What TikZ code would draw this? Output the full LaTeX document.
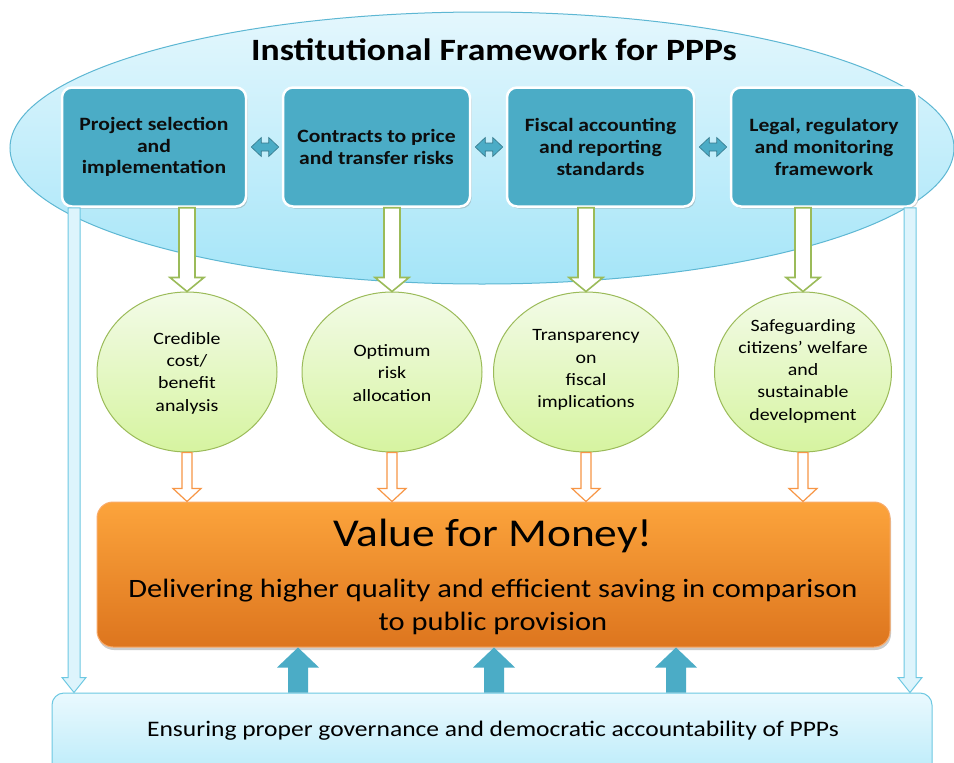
\documentclass[tikz,border=0pt]{standalone}
\usepackage{fontspec}
\setmainfont[FakeStretch=1.15]{Carlito}
\usetikzlibrary{shapes.geometric,calc,shadows}
\definecolor{boxblue}{HTML}{4BACC6}
\definecolor{ellTop}{HTML}{E4F7FD}
\definecolor{ellBot}{HTML}{A5E5F8}
\definecolor{ellLine}{HTML}{5DB7D3}
\definecolor{grnTop}{HTML}{F3FBE8}
\definecolor{grnBot}{HTML}{D6F4A0}
\definecolor{grnLine}{HTML}{9BBB59}
\definecolor{orgTop}{HTML}{FCA43C}
\definecolor{orgBot}{HTML}{DD751E}
\definecolor{orgLine}{HTML}{F79646}
\definecolor{botTop}{HTML}{EAF9FE}
\definecolor{botBot}{HTML}{ABE7F8}
\definecolor{botLine}{HTML}{6DC8E2}
\definecolor{sideFill}{HTML}{DDF4FC}
\definecolor{txt}{HTML}{0D0D0D}
\tikzset{
  bigell/.style={ellipse, draw=ellLine, line width=1pt, top color=ellTop, bottom color=ellBot, inner sep=0pt},
  bluebox/.style={rectangle, rounded corners=10pt, fill=boxblue, draw=white, line width=2.5pt, inner sep=0pt,
    drop shadow={opacity=0.35, shadow xshift=1.5pt, shadow yshift=-2pt},
    text=txt, font=\bfseries\fontsize{18.8}{21.7}\selectfont, align=center},
  greencirc/.style={ellipse, draw=grnLine, line width=1pt, top color=grnTop, bottom color=grnBot, inner sep=0pt},
  circtext/.style={text=black, font=\fontsize{17.3}{22.3}\selectfont, align=center, inner sep=0pt},
  vfmbox/.style={rectangle, rounded corners=16pt, draw=orgLine!80!white, line width=1pt, top color=orgTop, bottom color=orgBot, inner sep=0pt,
    drop shadow={opacity=0.4, shadow xshift=1pt, shadow yshift=-3pt}},
  vfmtitlestyle/.style={text=black, font=\fontsize{39.5}{42}\selectfont},
  vfmsubstyle/.style={text=black, font=\fontsize{26.5}{33}\selectfont, align=center},
  botbox/.style={rectangle, rounded corners=12pt, draw=botLine, line width=1pt, top color=botTop, bottom color=botBot, inner sep=0pt},
  greenarrow/.style={fill=white, draw=grnLine, line width=1.6pt, line join=miter},
  orangearrow/.style={fill=white, draw=orgLine, line width=1.2pt, line join=miter},
  bluearrow/.style={fill=boxblue, draw=none},
  sidearrow/.style={fill=sideFill, draw=botLine, line width=1pt, line join=miter},
  dblarrowstyle/.style={fill=boxblue, draw=boxblue!70!black, line width=0.6pt, line join=miter},
}
% style, from, to, shaft half width, head half width, head length
\newcommand\hollowarrow[6]{%
  \draw[#1] let \p1=(#2), \p2=(#3), \n1={sign(\y1-\y2)} in
    (\x2-#4,\y1) -- (\x2-#4,\y2+\n1*#6) -- (\x2-#5,\y2+\n1*#6) -- (\x2,\y2)
    -- (\x2+#5,\y2+\n1*#6) -- (\x2+#4,\y2+\n1*#6) -- (\x2+#4,\y1) -- cycle;}
% double arrow between two boxes
\newcommand\dblarrow[2]{%
  \draw[dblarrowstyle] let \p1=($(#1.east)+(4,0)$), \p2=($(#2.west)+(-3,0)$) in
    (\x1,\y1) -- (\x1+10pt,\y1+9.5pt) -- (\x1+10pt,\y1+4pt) -- (\x2-10pt,\y1+4pt)
    -- (\x2-10pt,\y1+9.5pt) -- (\x2,\y1) -- (\x2-10pt,\y1-9.5pt) -- (\x2-10pt,\y1-4pt)
    -- (\x1+10pt,\y1-4pt) -- (\x1+10pt,\y1-9.5pt) -- cycle;}
\begin{document}
\begin{tikzpicture}[x=1pt,y=-1pt]
\useasboundingbox (0,0) rectangle (954,763);
\fill[white] (0,0) rectangle (954,763);

% big ellipse
\node[bigell, minimum width=944pt, minimum height=272pt] (ell) at (482,148) {};
\node[text=black, font=\bfseries\fontsize{31}{36}\selectfont] (title) at (494,50) {Institutional Framework for PPPs};

% boxes
\node[bluebox, minimum width=184pt, minimum height=119pt] (b1) at (154,147) {Project selection\\and\\implementation};
\node[bluebox, minimum width=187pt, minimum height=119pt] (b2) at (376.5,147) {Contracts to price\\and transfer risks};
\node[bluebox, minimum width=187pt, minimum height=119pt] (b3) at (600.5,147) {Fiscal accounting\\and reporting\\standards};
\node[bluebox, minimum width=186pt, minimum height=119pt] (b4) at (824,147) {Legal, regulatory\\and monitoring\\framework};

\dblarrow{b1}{b2}
\dblarrow{b2}{b3}
\dblarrow{b3}{b4}

% circles
\node[greencirc, minimum width=180pt, minimum height=160pt] (c1) at (187,372) {};
\node[greencirc, minimum width=180pt, minimum height=160pt] (c2) at (392,372) {};
\node[greencirc, minimum width=185pt, minimum height=160pt] (c3) at (586,372) {};
\node[greencirc, minimum width=177pt, minimum height=160pt] (c4) at (803,372) {};
\node[circtext] (t1) at (187,373) {Credible\\cost/\\benefit\\analysis};
\node[circtext] (t2) at (392,373) {Optimum\\risk\\allocation};
\node[circtext] (t3) at (586,370) {Transparency\\on\\fiscal\\implications};
\node[circtext] (t4) at (803,371) {Safeguarding\\citizens’ welfare\\and\\sustainable\\development};

% value for money box
\node[vfmbox, minimum width=793pt, minimum height=145pt] (vfm) at (493.5,574.5) {};
\node[vfmtitlestyle] (vfmtitle) at (493,536) {Value for Money!};
\node[vfmsubstyle] (vfmsub) at (493,607) {Delivering higher quality and efficient saving in comparison\\to public provision};

% bottom box
\node[botbox, minimum width=880pt, minimum height=110pt] (bot) at (492,748) {};
\node[text=black, font=\fontsize{22.2}{26}\selectfont] (bottext) at (493,731) {Ensuring proper governance and democratic accountability of PPPs};

% green arrows box -> circle
\hollowarrow{greenarrow}{b1.south}{c1.north}{8pt}{17pt}{14pt}
\hollowarrow{greenarrow}{b2.south}{c2.north}{8pt}{17pt}{14pt}
\hollowarrow{greenarrow}{b3.south}{c3.north}{8pt}{17pt}{14pt}
\hollowarrow{greenarrow}{b4.south}{c4.north}{8pt}{17pt}{14pt}

% orange arrows circle -> vfm
\hollowarrow{orangearrow}{c1.south}{vfm.north -| c1.south}{5pt}{14pt}{13pt}
\hollowarrow{orangearrow}{c2.south}{vfm.north -| c2.south}{5pt}{14pt}{13pt}
\hollowarrow{orangearrow}{c3.south}{vfm.north -| c3.south}{5pt}{14pt}{13pt}
\hollowarrow{orangearrow}{c4.south}{vfm.north -| c4.south}{5pt}{14pt}{13pt}

% side arrows
\coordinate (sl) at (74,0);
\coordinate (sr) at (910,0);
\hollowarrow{sidearrow}{b1.south}{bot.north -| sl}{6pt}{12pt}{15pt}
\hollowarrow{sidearrow}{b4.south}{bot.north -| sr}{6pt}{12pt}{15pt}

% blue up arrows
\coordinate (u1) at (298,0);
\coordinate (u2) at (494,0);
\coordinate (u3) at (676,0);
\hollowarrow{bluearrow}{bot.north}{vfm.south -| u1}{10pt}{21pt}{20pt}
\hollowarrow{bluearrow}{bot.north}{vfm.south -| u2}{10pt}{21pt}{20pt}
\hollowarrow{bluearrow}{bot.north}{vfm.south -| u3}{10pt}{21pt}{20pt}
\end{tikzpicture}
\end{document}
